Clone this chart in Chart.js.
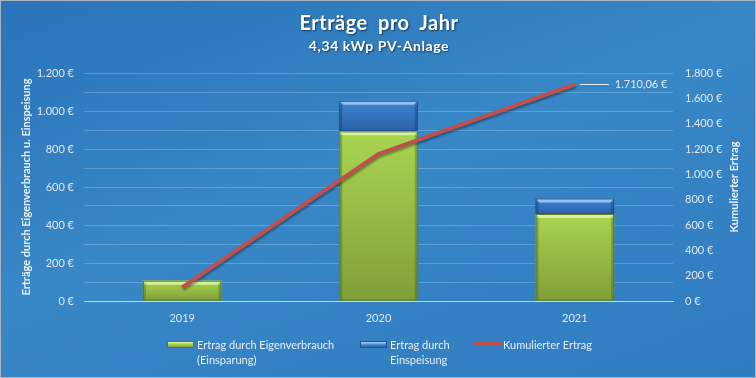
<!DOCTYPE html>
<html>
<head>
<meta charset="utf-8">
<script src="https://cdn.jsdelivr.net/npm/chart.js@4.4.1/dist/chart.umd.min.js"></script>
<style>
	body { margin: 0; }
	#wrap {
		position: relative; width: 756px; height: 378px; box-sizing: border-box;
		border: 1px solid #a9b4bf;
		background: linear-gradient(160deg, #2a73b9 0%, #3887c6 45%, #2f7cc0 100%);
		font-family: Lato, 'Open Sans', sans-serif; overflow: hidden;
	}
	#chartViwe { position: absolute; left: 0; top: 0; }
	.ttl { position: absolute; left: 0; width: 756px; text-align: center; color: #fff; font-weight: bold;
		text-shadow: 1px 1px 2px rgba(0,0,0,0.55); }
	#t1 { top: 9px; font-size: 20px; word-spacing: 5px; letter-spacing: 0.5px; }
	#t2 { top: 36px; font-size: 14px; letter-spacing: 0.6px; }
	.lg { position: absolute; color: #e8eef5; font-size: 11px; line-height: 15px; top: 336px; }
	.sw { position: absolute; }
</style>
</head>
<body>
<div id="wrap">
	<canvas id="chartViwe" width="756" height="378"></canvas>
	<div class="ttl" id="t1">Erträge pro Jahr</div>
	<div class="ttl" id="t2">4,34 kWp PV-Anlage</div>
	<div id="legend"></div>
</div>
<script>
var years = ['2019', '2020', '2021'];
var eigenverbrauch = [107, 893, 458];
var einspeisung = [0, 161, 82];
var kumuliert = [107, 1161, 1710.06];

var seriesNames = ['Ertrag durch Eigenverbrauch\n(Einsparung)', 'Ertrag durch\nEinspeisung', 'Kumulierter Ertrag'];
var leftTitle = 'Erträge durch Eigenverbrauch u. Einspeisung';
var rightTitle = 'Kumulierter Ertrag';

function euro(v, dec) {
	var s = v.toFixed(dec || 0).split('.');
	var i = s[0].replace(/\B(?=(\d{3})+(?!\d))/g, '.');
	return i + (s[1] ? ',' + s[1] : '') + ' €';
}

var tickColor = '#e1e8ef';
var font = 'Lato';

// bevel look of the bars, drawn on top of the plain bar
var bevel = {
	id: 'bevel',
	afterDatasetDraw: function (chart, args) {
		if (args.meta.type !== 'bar') return;
		var c = chart.ctx;
		var green = args.index === 0;
		args.meta.data.forEach(function (b) {
			var h = b.base - b.y;
			if (h < 1) return;
			var l = b.x - b.width / 2, r = b.x + b.width / 2;
			var g = c.createLinearGradient(0, b.y, 0, b.base);
			if (green) { g.addColorStop(0, '#a9d551'); g.addColorStop(1, '#809f38'); }
			else { g.addColorStop(0, '#3f84d2'); g.addColorStop(1, '#2b62a8'); }
			c.save();
			c.fillStyle = g;
			c.fillRect(l, b.y, b.width, h);
			// top bevel
			c.fillStyle = green ? '#d6efa0' : '#8fc3f2';
			c.beginPath();
			c.moveTo(l, b.y); c.lineTo(r, b.y); c.lineTo(r - 4, b.y + 4); c.lineTo(l + 4, b.y + 4);
			c.closePath(); c.fill();
			// side shades
			c.fillStyle = green ? 'rgba(70,95,20,0.35)' : 'rgba(20,50,100,0.35)';
			c.fillRect(l, b.y + 4, 3, h - 4);
			c.fillRect(r - 3, b.y + 4, 3, h - 4);
			c.strokeStyle = green ? '#5f7b22' : '#23538f';
			c.lineWidth = 1;
			c.strokeRect(l + 0.5, b.y + 0.5, b.width - 1, h - 1);
			c.restore();
		});
	},
	beforeDatasetDraw: function (chart, args) {
		if (args.meta.type === 'line') {
			chart.ctx.save();
			chart.ctx.shadowColor = 'rgba(0,0,0,0.35)';
			chart.ctx.shadowOffsetX = 1;
			chart.ctx.shadowOffsetY = 2;
			chart.ctx.shadowBlur = 2;
		}
	},
	afterDatasetsDraw: function (chart) {
		var c = chart.ctx;
		// line shadow restore
		c.restore();
		// label on the last point
		var meta = chart.getDatasetMeta(2);
		var p = meta.data[meta.data.length - 1];
		c.save();
		c.strokeStyle = '#dfe7ef';
		c.lineWidth = 1;
		c.beginPath();
		c.moveTo(p.x + 5, Math.round(p.y) + 0.5);
		c.lineTo(p.x + 34, Math.round(p.y) + 0.5);
		c.stroke();
		c.fillStyle = tickColor;
		c.font = '11px ' + font;
		c.textBaseline = 'middle';
		c.fillText(euro(kumuliert[kumuliert.length - 1], 2), p.x + 40, p.y);
		// right axis title, reading bottom to top
		var y1 = chart.scales.y1;
		c.translate(733, (chart.chartArea.top + chart.chartArea.bottom) / 2);
		c.rotate(-Math.PI / 2);
		c.textAlign = 'center';
		c.font = 'bold 11px ' + font;
		c.fillStyle = '#eef3f8';
		c.fillText(rightTitle, 0, 0);
		c.restore();
	}
};

var ctx = document.getElementById('chartViwe').getContext('2d');
var chart = new Chart(ctx, {
	type: 'bar',
	data: {
		labels: years,
		datasets: [
			{
				label: seriesNames[0],
				data: eigenverbrauch,
				backgroundColor: '#95c245',
				yAxisID: 'y',
				order: 1
			},
			{
				label: seriesNames[1],
				data: einspeisung,
				backgroundColor: '#3577c4',
				yAxisID: 'y',
				order: 1
			},
			{
				type: 'line',
				label: seriesNames[2],
				data: kumuliert,
				borderColor: '#c0504d',
				backgroundColor: '#c0504d',
				borderWidth: 4,
				pointRadius: 0,
				tension: 0,
				yAxisID: 'y1',
				order: 0
			}
		]
	},
	options: {
		responsive: false,
		animation: false,
		datasets: { bar: { categoryPercentage: 1, barPercentage: 0.4 } },
		layout: { padding: { left: 15, right: 13, top: 72, bottom: 48 } },
		plugins: { legend: { display: false }, tooltip: { enabled: false } },
		scales: {
			x: {
				stacked: true,
				grid: { display: false, drawTicks: false },
				border: { color: '#c8d3de', width: 1 },
				ticks: { color: tickColor, font: { family: font, size: 11 }, padding: 11 },
				afterFit: function (s) { s.height = 30; }
			},
			y: {
				stacked: true,
				min: 0, max: 1200,
				border: { display: false },
				grid: {
					drawTicks: false,
					color: function (c) { return c.tick && c.tick.value === 0 ? '#c8d3de' : 'rgba(255,255,255,0.2)'; }
				},
				ticks: {
					stepSize: 100, padding: 10, color: tickColor,
					font: { family: font, size: 11 },
					callback: function (v) { return v % 200 === 0 ? euro(v) : ''; }
				},
				title: {
					display: true, text: leftTitle, color: '#eef3f8',
					font: { family: font, size: 11, weight: 'bold' }
				},
				afterFit: function (s) { s.width = 68; }
			},
			y1: {
				position: 'right',
				min: 0, max: 1800,
				border: { display: false },
				grid: { display: false, drawTicks: false },
				ticks: {
					stepSize: 200, padding: 12, color: tickColor,
					font: { family: font, size: 11 },
					callback: function (v) { return euro(v); }
				},
				afterFit: function (s) { s.width = 71; }
			}
		}
	},
	plugins: [bevel]
});

// legend with wrapped labels
var lgItems = [
	{ sw: { left: 166, top: 340, width: 25, height: 5, background: 'linear-gradient(#e0f5a8, #a6d14e 50%, #7d9c35)', border: '1px solid #5f7b22' }, text: 196 },
	{ sw: { left: 359, top: 340, width: 25, height: 5, background: 'linear-gradient(#a6d4fa, #4a8fd8 50%, #2b62a8)', border: '1px solid #23538f' }, text: 389 },
	{ sw: { left: 472, top: 341, width: 28, height: 4, background: '#c0504d', border: 'none' }, text: 502 }
];
var lg = document.getElementById('legend');
lgItems.forEach(function (it, i) {
	var s = document.createElement('div');
	s.className = 'sw';
	Object.keys(it.sw).forEach(function (k) { s.style[k] = typeof it.sw[k] === 'number' ? it.sw[k] + 'px' : it.sw[k]; });
	lg.appendChild(s);
	var t = document.createElement('div');
	t.className = 'lg';
	t.style.left = it.text + 'px';
	t.innerHTML = seriesNames[i].split('\n').join('<br>');
	lg.appendChild(t);
});
</script>
</body>
</html>
